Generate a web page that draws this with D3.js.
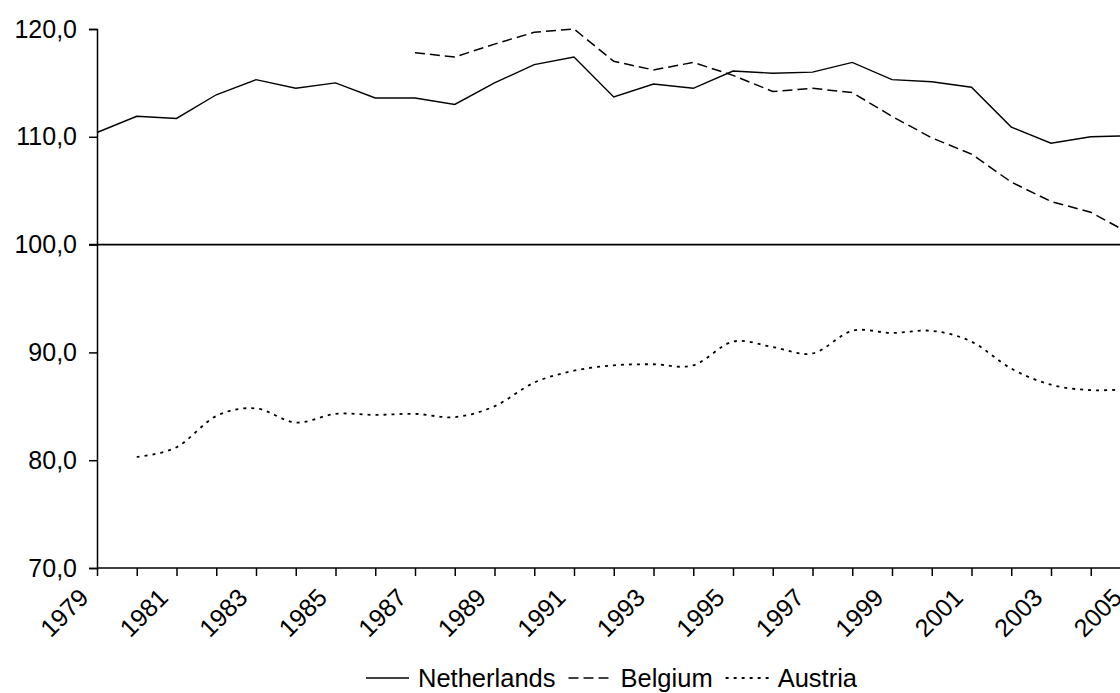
<!DOCTYPE html>
<html>
<head>
<meta charset="utf-8">
<script src="https://cdn.jsdelivr.net/npm/d3@7"></script>
<style>
  html, body { margin: 0; padding: 0; background: #fff; }
  svg { display: block; }
  text { font-family: Arial, "Liberation Sans", sans-serif; fill: #000; }
</style>
</head>
<body>
<svg id="chart" width="1120" height="693"></svg>
<script>
// ---- data ----
const years = d3.range(1979, 2006);
const netherlands = [110.4, 111.9, 111.7, 113.9, 115.3, 114.5, 115.0, 113.6, 113.6, 113.0, 115.0, 116.7, 117.4,
  113.7, 114.9, 114.5, 116.1, 115.9, 116.0, 116.9, 115.3, 115.1, 114.6, 110.9, 109.4, 110.0, 110.1];
const belgium = [null, null, null, null, null, null, null, null, 117.8, 117.4, 118.6, 119.7, 120.0,
  117.0, 116.2, 116.9, 115.7, 114.2, 114.5, 114.1, 111.9, 109.9, 108.4, 105.8, 104.0, 103.0, 101.0];
const austria = [null, 80.3, 81.2, 84.1, 84.8, 83.5, 84.3, 84.2, 84.3, 84.0, 85.0, 87.2, 88.3,
  88.8, 88.9, 88.8, 91.0, 90.5, 89.9, 92.0, 91.8, 92.0, 91.0, 88.5, 87.0, 86.5, 86.6];
const yTicks = [70, 80, 90, 100, 110, 120];
const xLabelYears = d3.range(1979, 2006, 2);
const seriesNames = ["Netherlands", "Belgium", "Austria"];
const referenceLevel = 100;

// ---- layout ----
const svg = d3.select("#chart");
const x = d3.scaleLinear().domain([1979, 2005]).range([97, 1130.5]);
const y = d3.scaleLinear().domain([70, 120]).range([568, 29]);

const styles = {
  Netherlands: { dash: null, width: 1.4, curve: d3.curveLinear },
  Belgium: { dash: "10,5", width: 1.5, curve: d3.curveLinear },
  Austria: { dash: "3,5", width: 1.8, curve: d3.curveCatmullRom.alpha(0) }
};
const seriesData = { Netherlands: netherlands, Belgium: belgium, Austria: austria };

// ---- axes ----
const yAxis = d3.axisLeft(y).tickValues(yTicks).tickSize(8).tickPadding(12)
  .tickFormat(d => d3.format(".1f")(d).replace(".", ","));
const gy = svg.append("g").attr("transform", `translate(${x(1979)},0)`).call(yAxis);
gy.select(".domain").attr("stroke", "#000").attr("stroke-width", 1.5);
gy.selectAll(".tick line").attr("stroke", "#000").attr("stroke-width", 1.5);
gy.selectAll("text").style("font-size", "25px").attr("font-family", null);

const xAxis = d3.axisBottom(x).tickValues(years).tickSize(8).tickFormat("");
const gx = svg.append("g").attr("transform", `translate(0,${y(70)})`).call(xAxis);
gx.select(".domain").attr("stroke", "#000").attr("stroke-width", 1.5).attr("d", `M${x(1979)},0H1140`);
gx.selectAll(".tick line").attr("stroke", "#000").attr("stroke-width", 1.5);

svg.append("g").selectAll("text").data(xLabelYears).join("text")
  .attr("transform", d => `translate(${x(d) - 13},${y(70) + 25}) rotate(-45)`)
  .attr("text-anchor", "end")
  .attr("dy", "0.35em")
  .style("font-size", "25px")
  .text(d => d);

// reference line at 100
svg.append("line")
  .attr("x1", x(1979) - 8).attr("x2", 1140)
  .attr("y1", y(referenceLevel)).attr("y2", y(referenceLevel))
  .attr("stroke", "#000").attr("stroke-width", 1.6);

// ---- lines ----
seriesNames.forEach(name => {
  const st = styles[name];
  const line = d3.line()
    .defined(d => d[1] != null)
    .x(d => x(d[0])).y(d => y(d[1]))
    .curve(st.curve);
  svg.append("path")
    .datum(years.map((yr, i) => [yr, seriesData[name][i]]))
    .attr("fill", "none")
    .attr("stroke", "#000")
    .attr("stroke-width", st.width)
    .attr("stroke-dasharray", st.dash)
    .attr("d", line);
});

// ---- legend ----
const legend = svg.append("g").attr("transform", "translate(366,678)");
let cx = 0;
seriesNames.forEach(name => {
  const st = styles[name];
  legend.append("line").attr("x1", cx).attr("x2", cx + 43).attr("y1", 0).attr("y2", 0)
    .attr("stroke", "#000").attr("stroke-width", st.width).attr("stroke-dasharray", st.dash);
  const t = legend.append("text").attr("x", cx + 52).attr("y", 0).attr("dy", "0.35em")
    .style("font-size", "25.5px").text(name);
  cx += 52 + t.node().getComputedTextLength() + 13;
});
</script>
</body>
</html>
